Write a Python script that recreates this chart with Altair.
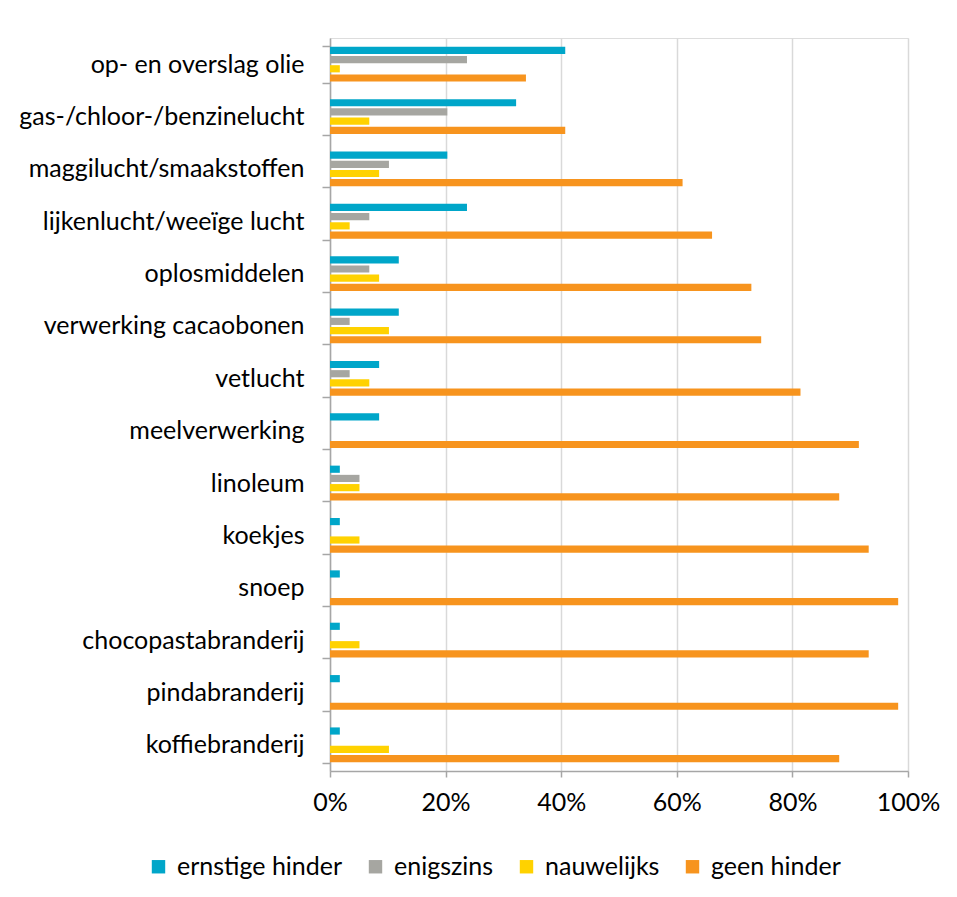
import altair as alt
import pandas as pd

categories = [
    "op- en overslag olie",
    "gas-/chloor-/benzinelucht",
    "maggilucht/smaakstoffen",
    "lijkenlucht/weeïge lucht",
    "oplosmiddelen",
    "verwerking cacaobonen",
    "vetlucht",
    "meelverwerking",
    "linoleum",
    "koekjes",
    "snoep",
    "chocopastabranderij",
    "pindabranderij",
    "koffiebranderij",
]
series = ["ernstige hinder", "enigszins", "nauwelijks", "geen hinder"]
colors = ["#00A6C9", "#A6A6A1", "#FFD200", "#F7941E"]

ernstig = [40.7, 32.2, 20.3, 23.7, 11.9, 11.9, 8.5, 8.5, 1.7, 1.7, 1.7, 1.7, 1.7, 1.7]
enigszins = [23.7, 20.3, 10.2, 6.8, 6.8, 3.4, 3.4, 0, 5.1, 0, 0, 0, 0, 0]
nauwelijks = [1.7, 6.8, 8.5, 3.4, 8.5, 10.2, 6.8, 0, 5.1, 5.1, 0, 5.1, 0, 10.2]
geen = [33.9, 40.7, 61.0, 66.1, 72.9, 74.6, 81.4, 91.5, 88.1, 93.2, 98.3, 93.2, 98.3, 88.1]

x_ticks = [0, 0.2, 0.4, 0.6, 0.8, 1.0]

rows = []
for i, cat in enumerate(categories):
    for s, vals in zip(series, [ernstig, enigszins, nauwelijks, geen]):
        rows.append({"cat": cat, "serie": s, "v": vals[i] / 100})
df = pd.DataFrame(rows)

FONT = "Lato"
FS = 25

chart = alt.Chart(df).mark_bar().encode(
    y=alt.Y(
        "cat:N",
        sort=categories,
        title=None,
        scale=alt.Scale(paddingInner=0.3, paddingOuter=0.15),
        axis=alt.Axis(
            tickBand="extent",
            tickSize=8,
            tickColor="#A6A6A6",
            tickWidth=1.5,
            domainColor="#A6A6A6",
            domainWidth=1.5,
            labelPadding=18,
            labelFont=FONT,
            labelFontSize=FS,
            labelColor="#000000",
            labelLimit=500,
            grid=False,
        ),
    ),
    yOffset=alt.YOffset(
        "serie:N",
        sort=series,
        scale=alt.Scale(paddingInner=0.22, paddingOuter=0.1),
    ),
    x=alt.X(
        "v:Q",
        title=None,
        scale=alt.Scale(domain=[0, 1]),
        axis=alt.Axis(
            format="%",
            values=x_ticks,
            tickSize=6,
            tickColor="#A6A6A6",
            tickWidth=1.5,
            domainColor="#A6A6A6",
            domainWidth=1.5,
            gridColor="#D9D9D9",
            gridWidth=1.5,
            labelFlush=False,
            labelPadding=13,
            labelFont=FONT,
            labelFontSize=FS,
            labelColor="#000000",
        ),
    ),
    color=alt.Color(
        "serie:N",
        sort=series,
        scale=alt.Scale(domain=series, range=colors),
        legend=alt.Legend(
            orient="none",
            legendX=-184,
            legendY=816,
            direction="horizontal",
            title=None,
            symbolType="square",
            symbolSize=180,
            symbolStrokeWidth=0,
            labelFont=FONT,
            labelFontSize=FS,
            labelColor="#000000",
            labelOffset=6,
            columnPadding=20,
            labelLimit=300,
        ),
    ),
).properties(
    width=578,
    height=733,
    autosize=alt.AutoSizeParams(type="none"),
    padding={"left": 322, "top": 30, "right": 40, "bottom": 110},
).configure_view(stroke=None).configure(background="white")

chart.save("out.html", embed_options={"renderer": "svg", "actions": False})
